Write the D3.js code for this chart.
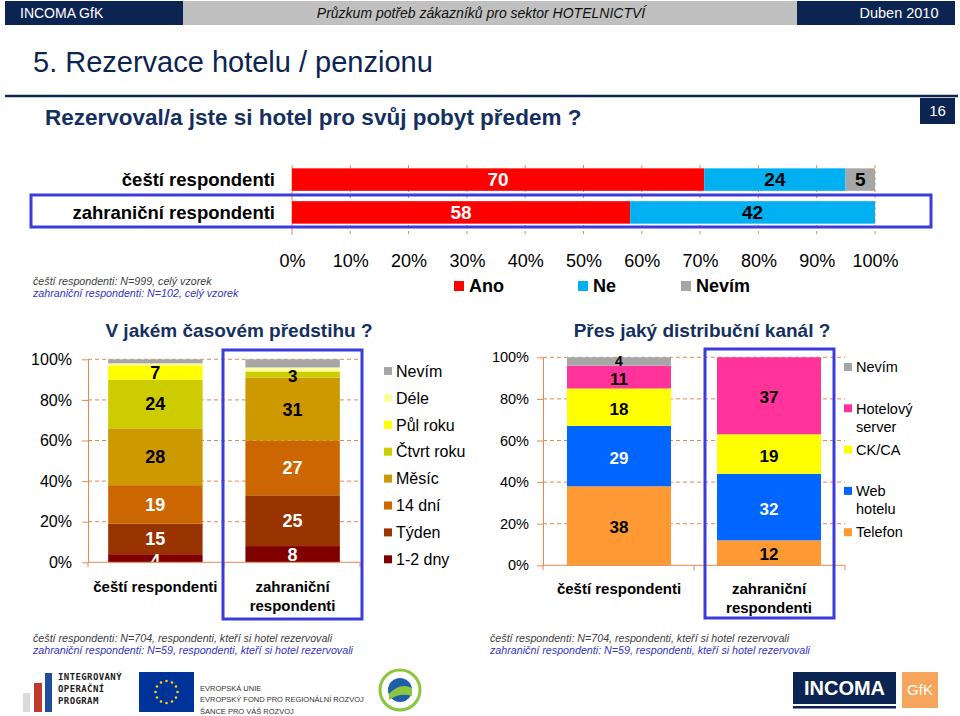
<!DOCTYPE html>
<html>
<head>
<meta charset="utf-8">
<script src="https://cdn.jsdelivr.net/npm/d3@7"></script>
<style>
    body { margin: 0; background: #fff; }
    svg { display: block; font-family: 'Liberation Sans', Arial, sans-serif; }
</style>
</head>
<body>
<svg id="slide" width="960" height="716"></svg>
<script>
/* Slide 16: hotel booking, stacked 100% bars */

// shared categories
const groups = ['čeští respondenti', 'zahraniční respondenti'];

// top chart: booked in advance?
const answerKeys = ['Ano', 'Ne', 'Nevím'];
const answerCz = [70, 24, 5];
const answerForeign = [58, 42, 0];
const pctTicks = [0, 10, 20, 30, 40, 50, 60, 70, 80, 90, 100];

// left chart: how long in advance
const advanceKeys = ['1-2 dny', 'Týden', '14 dní', 'Měsíc', 'Čtvrt roku', 'Půl roku', 'Déle', 'Nevím'];
const advanceCz = [4, 15, 19, 28, 24, 7, 1, 2];
const advanceForeign = [8, 25, 27, 31, 3, 0, 2, 4];

// right chart: distribution channel
const channelKeys = ['Telefon', 'Web hotelu', 'CK/CA', 'Hotelový server', 'Nevím'];
const channelCz = [38, 29, 18, 11, 4];
const channelForeign = [12, 32, 19, 37, 0];
const channelLegend = [['Nevím'], ['Hotelový', 'server'], ['CK/CA'], ['Web', 'hotelu'], ['Telefon']];

const colTicks = [0, 20, 40, 60, 80, 100];

const ANSWER_COLORS = { 'Ano': '#ff0000', 'Ne': '#00b0f0', 'Nevím': '#a6a6a6' };
const ANSWER_TEXT = { 'Ano': '#fff', 'Ne': '#000', 'Nevím': '#000' };

const ADVANCE_COLORS = {
    '1-2 dny': '#800000',
    'Týden': '#993300',
    '14 dní': '#cc6600',
    'Měsíc': '#cc9900',
    'Čtvrt roku': '#cccc00',
    'Půl roku': '#ffff00',
    'Déle': '#ffff99',
    'Nevím': '#a6a6a6',
};
const ADVANCE_TEXT = { '1-2 dny': '#fff', 'Týden': '#fff', '14 dní': '#fff' };

const CHANNEL_COLORS = {
    'Telefon': '#ff9933',
    'Web hotelu': '#0066ff',
    'CK/CA': '#ffff00',
    'Hotelový server': '#ff3399',
    'Nevím': '#a6a6a6',
};
const CHANNEL_TEXT = { 'Web hotelu': '#fff' };

const NAVY = '#0c2452';
const TITLE_BLUE = '#15305f';
const GRID = '#e8894a';
const BOX = '#3c3cdc';

const svg = d3.select('#slide');

function toRows(keys, series) {
    return groups.map((grp, i) => {
        const r = { group: grp };
        keys.forEach((k, j) => r[k] = series[i][j]);
        return r;
    });
}

// ---------- header ----------
svg.append('rect').attr('x', 5).attr('y', 1).attr('width', 950).attr('height', 24).attr('fill', '#c0c0c0');
svg.append('rect').attr('x', 5).attr('y', 1).attr('width', 178).attr('height', 24).attr('fill', NAVY);
svg.append('rect').attr('x', 797).attr('y', 1).attr('width', 158).attr('height', 24).attr('fill', NAVY);
svg.append('text').attr('x', 20).attr('y', 13).attr('dy', '0.35em')
    .attr('font-size', 14).attr('fill', '#fff').text('INCOMA GfK');
svg.append('text').attr('x', 481).attr('y', 13).attr('dy', '0.35em').attr('text-anchor', 'middle')
    .attr('font-size', 14).attr('font-style', 'italic').attr('fill', '#111')
    .text('Průzkum potřeb zákazníků pro sektor HOTELNICTVÍ');
svg.append('text').attr('x', 899).attr('y', 13).attr('dy', '0.35em').attr('text-anchor', 'middle')
    .attr('font-size', 14.5).attr('fill', '#fff').text('Duben 2010');

svg.append('text').attr('x', 33).attr('y', 72)
    .attr('font-size', 29).attr('fill', NAVY).text('5. Rezervace hotelu / penzionu');
svg.append('line').attr('x1', 5).attr('x2', 958).attr('y1', 96).attr('y2', 96)
    .attr('stroke', NAVY).attr('stroke-width', 2.5);
svg.append('rect').attr('x', 920).attr('y', 98).attr('width', 35).attr('height', 26).attr('fill', NAVY);
svg.append('text').attr('x', 937.5).attr('y', 111).attr('dy', '0.35em').attr('text-anchor', 'middle')
    .attr('font-size', 15).attr('fill', '#fff').text('16');
svg.append('text').attr('x', 45).attr('y', 125)
    .attr('font-size', 22.5).attr('font-weight', 'bold').attr('fill', TITLE_BLUE)
    .text('Rezervoval/a jste si hotel pro svůj pobyt předem ?');

// ---------- top chart ----------
(function drawTop() {
    const x = d3.scaleLinear().domain([0, 100]).range([292, 875]);
    const y = d3.scaleBand().domain(groups).range([158, 234]).padding(0.315);
    const g = svg.append('g');

    g.selectAll('.grid').data(pctTicks).join('line')
        .attr('x1', d => x(d)).attr('x2', d => x(d))
        .attr('y1', 165).attr('y2', 235)
        .attr('stroke', GRID).attr('stroke-width', 1)
        .attr('stroke-dasharray', d => d === 0 ? null : '3,3');

    const stacked = d3.stack().keys(answerKeys).offset(d3.stackOffsetExpand)(toRows(answerKeys, [answerCz, answerForeign]));

    const layers = g.selectAll('.layer').data(stacked).join('g')
        .attr('fill', d => ANSWER_COLORS[d.key]);
    layers.selectAll('rect').data(d => d).join('rect')
        .attr('x', d => x(d[0] * 100))
        .attr('y', d => y(d.data.group))
        .attr('width', d => x(d[1] * 100) - x(d[0] * 100))
        .attr('height', y.bandwidth());

    stacked.forEach(layer => {
        g.selectAll(null).data(layer.filter(d => d.data[layer.key] > 0)).join('text')
            .attr('x', d => x((d[0] + d[1]) * 50))
            .attr('y', d => y(d.data.group) + y.bandwidth() / 2)
            .attr('dy', '0.36em').attr('text-anchor', 'middle')
            .attr('font-size', 19).attr('font-weight', 'bold')
            .attr('fill', ANSWER_TEXT[layer.key])
            .text(d => d.data[layer.key]);
    });

    g.selectAll('.cat').data(groups).join('text')
        .attr('x', 275).attr('y', d => y(d) + y.bandwidth() / 2).attr('dy', '0.36em')
        .attr('text-anchor', 'end').attr('font-size', 18.5).attr('font-weight', 'bold')
        .text(d => d);

    svg.append('rect').attr('x', 31).attr('y', 195).attr('width', 900).attr('height', 32)
        .attr('fill', 'none').attr('stroke', BOX).attr('stroke-width', 3);

    const axis = g.append('g').attr('transform', 'translate(0,254)')
        .call(d3.axisBottom(x).tickValues(pctTicks).tickFormat(d => d + '%').tickSize(0).tickPadding(0));
    axis.select('.domain').remove();
    axis.selectAll('text').attr('font-size', 18).attr('font-family', null).attr('fill', '#000');

    const legendX = [454, 578, 681];
    const lg = g.selectAll('.legend').data(answerKeys).join('g')
        .attr('transform', (d, i) => `translate(${legendX[i]},286)`);
    lg.append('rect').attr('x', 0).attr('y', -5).attr('width', 10).attr('height', 10)
        .attr('fill', d => ANSWER_COLORS[d]);
    lg.append('text').attr('x', 15).attr('dy', '0.36em')
        .attr('font-size', 18).attr('font-weight', 'bold').text(d => d);

    svg.append('text').attr('x', 33).attr('y', 281).attr('dy', '0.35em')
        .attr('font-size', 10.7).attr('font-style', 'italic').attr('fill', '#404040')
        .text('čeští respondenti: N=999, celý vzorek');
    svg.append('text').attr('x', 33).attr('y', 293).attr('dy', '0.35em')
        .attr('font-size', 10.7).attr('font-style', 'italic').attr('fill', '#3333cc')
        .text('zahraniční respondenti: N=102, celý vzorek');
})();

// ---------- column charts ----------
function drawColumns(opt) {
    const g = svg.append('g');
    const x = d3.scaleBand().domain(groups).range(opt.xRange)
        .paddingInner(opt.padIn).paddingOuter(opt.padOut);
    const y = d3.scaleLinear().domain([0, 100]).range(opt.yRange);
    const [x0, x1] = opt.xRange;

    const clipId = 'clip' + opt.id;
    svg.append('clipPath').attr('id', clipId).append('rect')
        .attr('x', x0).attr('y', y(100) - 12).attr('width', x1 - x0).attr('height', y(0) - y(100) + 12);

    // dashed gridlines
    g.selectAll('.grid').data(colTicks.filter(t => t > 0)).join('line')
        .attr('x1', x0).attr('x2', x1)
        .attr('y1', d => y(d)).attr('y2', d => y(d))
        .attr('stroke', GRID).attr('stroke-dasharray', '4,3');

    const stacked = d3.stack().keys(opt.keys).offset(d3.stackOffsetExpand)(toRows(opt.keys, opt.series));

    const layers = g.selectAll('.layer').data(stacked).join('g')
        .attr('fill', d => opt.colors[d.key]);
    layers.selectAll('rect').data(d => d).join('rect')
        .attr('x', d => x(d.data.group))
        .attr('y', d => y(d[1] * 100))
        .attr('width', x.bandwidth())
        .attr('height', d => y(d[0] * 100) - y(d[1] * 100));

    // value labels; thin segments get their own size and offset
    const isThin = d => (d[1] - d[0]) < 0.06;
    const labels = g.append('g').attr('clip-path', `url(#${clipId})`);
    stacked.forEach(layer => {
        if (opt.unlabeled.includes(layer.key)) return;
        labels.selectAll(null).data(layer.filter(d => d.data[layer.key] > 0)).join('text')
            .attr('x', d => x(d.data.group) + x.bandwidth() / 2)
            .attr('y', d => y((d[0] + d[1]) * 50) + (isThin(d) ? opt.thinShift : opt.labelShift))
            .attr('dy', '0.36em')
            .attr('text-anchor', 'middle')
            .attr('font-size', d => isThin(d) ? opt.thinSize : opt.valueSize)
            .attr('font-weight', 'bold')
            .attr('fill', opt.textColors[layer.key] || '#000')
            .text(d => d.data[layer.key]);
    });

    // axes
    const yAxis = g.append('g').attr('transform', `translate(${x0},0)`)
        .call(d3.axisLeft(y).tickValues(colTicks).tickFormat(d => d + '%')
            .tickSize(6).tickSizeOuter(0).tickPadding(opt.tickPad));
    yAxis.select('.domain').attr('stroke', GRID);
    yAxis.selectAll('.tick line').attr('stroke', GRID);
    yAxis.selectAll('text').attr('font-size', opt.tickSize).attr('font-family', null).attr('fill', '#000');

    g.append('line').attr('x1', x0).attr('x2', x1).attr('y1', y(0)).attr('y2', y(0))
        .attr('stroke', GRID);
    g.selectAll('.xtick').data([x0, (x0 + x1) / 2, x1]).join('line')
        .attr('x1', d => d).attr('x2', d => d).attr('y1', y(0)).attr('y2', y(0) + 5)
        .attr('stroke', GRID);

    // category labels
    const catLines = [['čeští respondenti'], ['zahraniční', 'respondenti']];
    groups.forEach((grp, i) => {
        g.selectAll(null).data(catLines[i]).join('text')
            .attr('x', x(grp) + x.bandwidth() / 2)
            .attr('y', (d, j) => opt.catY + j * 19)
            .attr('dy', '0.36em').attr('text-anchor', 'middle')
            .attr('font-size', 15).attr('font-weight', 'bold')
            .text(d => d);
    });

    // title
    g.append('text').attr('x', opt.titleX).attr('y', 330).attr('dy', '0.36em')
        .attr('text-anchor', 'middle').attr('font-size', 19).attr('font-weight', 'bold')
        .attr('fill', TITLE_BLUE).text(opt.title);

    // legend
    const lg = g.selectAll('.legend').data(opt.legend).join('g')
        .attr('transform', (d, i) => `translate(${opt.legendX},${opt.legendY + i * opt.legendStep})`);
    lg.append('rect').attr('x', 0).attr('y', -4).attr('width', 8).attr('height', 8)
        .attr('fill', d => opt.colors[d.key]);
    lg.each(function (d) {
        d3.select(this).selectAll('text').data(d.lines).join('text')
            .attr('x', 12).attr('y', (t, j) => j * 18).attr('dy', '0.36em')
            .attr('font-size', opt.legendSize).text(t => t);
    });

    // highlight box around foreign respondents
    svg.append('rect').attr('x', opt.box[0]).attr('y', opt.box[1])
        .attr('width', opt.box[2]).attr('height', opt.box[3])
        .attr('fill', 'none').attr('stroke', BOX).attr('stroke-width', 3);

    // footnotes
    svg.append('text').attr('x', opt.noteX).attr('y', 638).attr('dy', '0.35em')
        .attr('font-size', 10.7).attr('font-style', 'italic').attr('fill', '#404040')
        .text('čeští respondenti: N=704, respondenti, kteří si hotel rezervovali');
    svg.append('text').attr('x', opt.noteX).attr('y', 650).attr('dy', '0.35em')
        .attr('font-size', 10.7).attr('font-style', 'italic').attr('fill', '#3333cc')
        .text('zahraniční respondenti: N=59, respondenti, kteří si hotel rezervovali');
}

drawColumns({
    id: 'advance',
    keys: advanceKeys,
    series: [advanceCz, advanceForeign],
    colors: ADVANCE_COLORS,
    textColors: ADVANCE_TEXT,
    unlabeled: ['Déle', 'Nevím'],
    xRange: [88, 360], padIn: 0.312, padOut: 0.147,
    yRange: [562.3, 359.3],
    tickPad: 10, tickSize: 16,
    valueSize: 18, labelShift: 0, thinSize: 17, thinShift: 1.7,
    catY: 587,
    title: 'V jakém časovém předstihu ?', titleX: 239,
    legend: advanceKeys.slice().reverse().map(k => ({ key: k, lines: [k] })),
    legendX: 384, legendY: 371, legendStep: 26.9, legendSize: 16,
    box: [223, 350, 139, 269],
    noteX: 33,
});

drawColumns({
    id: 'channel',
    keys: channelKeys,
    series: [channelCz, channelForeign],
    colors: CHANNEL_COLORS,
    textColors: CHANNEL_TEXT,
    unlabeled: [],
    xRange: [543, 845], padIn: 0.307, padOut: 0.16,
    yRange: [565.3, 357.3],
    tickPad: 8, tickSize: 14.5,
    valueSize: 17, labelShift: 1.5, thinSize: 14, thinShift: -0.8,
    catY: 589,
    title: 'Přes jaký distribuční kanál ?', titleX: 702,
    legend: channelKeys.slice().reverse().map((k, i) => ({ key: k, lines: channelLegend[i] })),
    legendX: 844, legendY: 367, legendStep: 41.3, legendSize: 14.5,
    box: [705, 349, 129, 269],
    noteX: 490,
});

// ---------- footer logos ----------
(function drawLogos() {
    const g = svg.append('g');
    // Integrovaný operační program
    g.append('rect').attr('x', 23).attr('y', 693).attr('width', 7).attr('height', 19).attr('fill', '#d9d9d9');
    g.append('rect').attr('x', 34).attr('y', 683).attr('width', 8).attr('height', 29).attr('fill', '#c0392b');
    g.append('rect').attr('x', 45).attr('y', 673).attr('width', 7).attr('height', 39).attr('fill', '#1f4e9c');
    g.selectAll('.iop').data(['INTEGROVANÝ', 'OPERAČNÍ', 'PROGRAM']).join('text')
        .attr('x', 58).attr('y', (d, i) => 677 + i * 12).attr('dy', '0.35em')
        .attr('font-size', 9).attr('font-weight', 'bold').attr('letter-spacing', 0.4)
        .attr('font-family', "'DejaVu Sans Mono', monospace").attr('fill', '#222').text(d => d);

    // EU flag
    g.append('rect').attr('x', 139).attr('y', 672).attr('width', 55).attr('height', 40).attr('fill', '#003399');
    g.selectAll('.star').data(d3.range(12)).join('circle')
        .attr('cx', i => 166.5 + 11 * Math.cos(i * Math.PI / 6))
        .attr('cy', i => 692 + 11 * Math.sin(i * Math.PI / 6))
        .attr('r', 1.3).attr('fill', '#ffcc00');
    g.selectAll('.eu').data(['EVROPSKÁ UNIE', 'EVROPSKÝ FOND PRO REGIONÁLNÍ ROZVOJ', 'ŠANCE PRO VÁŠ ROZVOJ']).join('text')
        .attr('x', 200).attr('y', (d, i) => 688 + i * 11.5).attr('dy', '0.35em')
        .attr('font-size', 7.5).attr('fill', '#333').text(d => d);

    // Ministerstvo pro místní rozvoj
    g.append('circle').attr('cx', 400).attr('cy', 690).attr('r', 20).attr('fill', '#fff')
        .attr('stroke', '#8cc63f').attr('stroke-width', 3);
    g.append('circle').attr('cx', 400).attr('cy', 690).attr('r', 12).attr('fill', '#1f5faa');
    g.append('path').attr('d', 'M389,694 Q400,682 412,688 L412,696 Q400,692 389,700 Z').attr('fill', '#8cc63f');

    // INCOMA GfK
    g.append('rect').attr('x', 793).attr('y', 672).attr('width', 103).attr('height', 32).attr('fill', NAVY);
    g.append('rect').attr('x', 793).attr('y', 706).attr('width', 103).attr('height', 2.5).attr('fill', NAVY);
    g.append('text').attr('x', 844.5).attr('y', 688).attr('dy', '0.36em').attr('text-anchor', 'middle')
        .attr('font-size', 20).attr('font-weight', 'bold').attr('fill', '#fff').text('INCOMA');
    g.append('rect').attr('x', 902).attr('y', 672).attr('width', 36).attr('height', 36).attr('fill', '#f6a55d');
    g.append('text').attr('x', 920).attr('y', 690).attr('dy', '0.36em').attr('text-anchor', 'middle')
        .attr('font-size', 15).attr('fill', '#fff').text('GfK');
})();
</script>
</body>
</html>
